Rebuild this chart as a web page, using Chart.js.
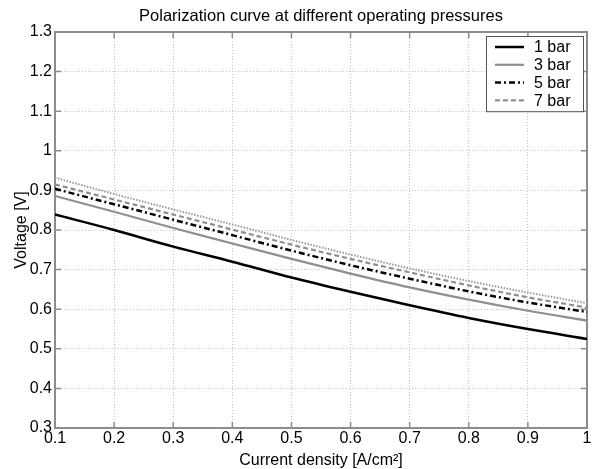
<!DOCTYPE html>
<html>
<head>
<meta charset="utf-8">
<script src="https://cdn.jsdelivr.net/npm/chart.js@4"></script>
<style>
  html, body { margin: 0; padding: 0; background: #fff; }
  #wrap { width: 597px; height: 469px; }
</style>
</head>
<body>
<div id="wrap"><canvas id="polChart" width="597" height="469"></canvas></div>
<script>
// Datos
const currentDensity = [0.1, 0.2, 0.3, 0.4, 0.5, 0.6, 0.7, 0.8, 0.9, 1.0];
const v1bar = [0.839, 0.800, 0.758, 0.720, 0.680, 0.644, 0.610, 0.578, 0.550, 0.525];
const v3bar = [0.886, 0.846, 0.805, 0.766, 0.727, 0.690, 0.655, 0.624, 0.596, 0.571];
const v5bar = [0.904, 0.865, 0.826, 0.787, 0.748, 0.711, 0.677, 0.645, 0.617, 0.593];
const v7bar = [0.915, 0.877, 0.839, 0.801, 0.763, 0.727, 0.693, 0.660, 0.630, 0.604];
const vTop  = [0.932, 0.891, 0.852, 0.814, 0.775, 0.738, 0.703, 0.671, 0.642, 0.615];

const xTicks = [0.1, 0.2, 0.3, 0.4, 0.5, 0.6, 0.7, 0.8, 0.9, 1];
const yTicks = [0.3, 0.4, 0.5, 0.6, 0.7, 0.8, 0.9, 1, 1.1, 1.2, 1.3];

const FONT = 'Liberation Sans, Arial, Helvetica, sans-serif';
Chart.defaults.font.family = FONT;
Chart.defaults.color = '#000';

function pts(arr) {
    return currentDensity.map((x, i) => ({ x: x, y: arr[i] }));
}

function fmt(v) {
    return String(Math.round(v * 10) / 10);
}

// Caja de ejes con marcas hacia dentro (estilo MATLAB)
const axesBox = {
    id: 'axesBox',
    beforeDatasetsDraw(chart) {
        const { ctx, chartArea: a, scales } = chart;
        ctx.save();
        ctx.strokeStyle = '#8c8c8c';
        ctx.lineWidth = 1.5;
        ctx.setLineDash([]);
        ctx.beginPath();
        xTicks.forEach(v => {
            const px = scales.x.getPixelForValue(v);
            ctx.moveTo(px, a.bottom); ctx.lineTo(px, a.bottom - 6);
            ctx.moveTo(px, a.top); ctx.lineTo(px, a.top + 6);
        });
        yTicks.forEach(v => {
            const py = scales.y.getPixelForValue(v);
            ctx.moveTo(a.left, py); ctx.lineTo(a.left + 6, py);
            ctx.moveTo(a.right, py); ctx.lineTo(a.right - 6, py);
        });
        ctx.stroke();
        ctx.lineWidth = 2;
        ctx.strokeRect(a.left, a.top, a.right - a.left, a.bottom - a.top);
        ctx.restore();
    }
};

// Leyenda dentro del área del gráfico (esquina superior derecha)
const insideLegend = {
    id: 'insideLegend',
    afterDatasetsDraw(chart) {
        const { ctx, chartArea: a } = chart;
        const items = chart.data.datasets.filter(d => !d.hideInLegend);
        const boxW = 97, rowH = 17.8;
        const boxH = items.length * rowH + 4;
        const x0 = a.right - boxW - 4, y0 = a.top + 4;
        ctx.save();
        ctx.fillStyle = '#fff';
        ctx.fillRect(x0, y0, boxW, boxH);
        ctx.strokeStyle = '#555';
        ctx.lineWidth = 1;
        ctx.setLineDash([]);
        ctx.strokeRect(x0 + 0.5, y0 + 0.5, boxW, boxH);
        ctx.font = '16px ' + FONT;
        ctx.textBaseline = 'middle';
        items.forEach((d, i) => {
            const cy = y0 + 11 + i * rowH;
            ctx.strokeStyle = d.borderColor;
            ctx.lineWidth = d.borderWidth;
            ctx.setLineDash(d.borderDash || []);
            ctx.beginPath();
            ctx.moveTo(x0 + 9, cy);
            ctx.lineTo(x0 + 38, cy);
            ctx.stroke();
            ctx.setLineDash([]);
            ctx.fillStyle = '#000';
            ctx.fillText(d.label, x0 + 48, cy + 1);
        });
        ctx.restore();
    }
};

const ctx = document.getElementById('polChart');
new Chart(ctx, {
    type: 'line',
    data: {
        datasets: [{
            label: '1 bar',
            data: pts(v1bar),
            borderColor: '#000000',
            borderWidth: 2.5
        }, {
            label: '3 bar',
            data: pts(v3bar),
            borderColor: '#8f8f8f',
            borderWidth: 2.2
        }, {
            label: '5 bar',
            data: pts(v5bar),
            borderColor: '#000000',
            borderWidth: 2.5,
            borderDash: [6, 3, 2, 3]
        }, {
            label: '7 bar',
            data: pts(v7bar),
            borderColor: '#8f8f8f',
            borderWidth: 2.2,
            borderDash: [5, 3]
        }, {
            label: '',
            hideInLegend: true,
            data: pts(vTop),
            borderColor: '#9a9a9a',
            borderWidth: 2,
            borderDash: [1.5, 1.5]
        }]
    },
    options: {
        responsive: false,
        animation: false,
        events: [],
        layout: { padding: { top: 0, right: 10, bottom: 0, left: 0 } },
        elements: {
            point: { radius: 0 },
            line: { cubicInterpolationMode: 'monotone', fill: false }
        },
        plugins: {
            legend: { display: false },
            tooltip: { enabled: false },
            title: {
                display: true,
                fullSize: false,
                text: 'Polarization curve at different operating pressures',
                font: { size: 16.5, weight: 'normal' },
                color: '#000',
                padding: { top: 6.2, bottom: 6.0 }
            }
        },
        scales: {
            x: {
                type: 'linear',
                min: 0.1,
                max: 1,
                afterBuildTicks: s => { s.ticks = xTicks.map(v => ({ value: v })); },
                afterFit: s => { s.height = 41; },
                grid: { color: '#c4c4c4', lineWidth: 1, drawTicks: false },
                border: { display: false, dash: [1, 2] },
                ticks: {
                    padding: 1,
                    maxRotation: 0,
                    font: { size: 16 },
                    color: '#000',
                    callback: v => fmt(v)
                },
                title: {
                    display: true,
                    text: 'Current density [A/cm²]',
                    font: { size: 16 },
                    color: '#000',
                    padding: { top: 0, bottom: -1 }
                }
            },
            y: {
                type: 'linear',
                min: 0.3,
                max: 1.3,
                afterBuildTicks: s => { s.ticks = yTicks.map(v => ({ value: v })); },
                afterFit: s => { s.width = 55; },
                grid: { color: '#c4c4c4', lineWidth: 1, drawTicks: false },
                border: { display: false, dash: [1, 2] },
                ticks: {
                    padding: 3,
                    font: { size: 16 },
                    color: '#000',
                    callback: v => fmt(v)
                },
                title: {
                    display: true,
                    text: 'Voltage [V]',
                    font: { size: 16 },
                    color: '#000',
                    padding: { top: 12.4, bottom: 0 }
                }
            }
        }
    },
    plugins: [axesBox, insideLegend]
});
</script>
</body>
</html>
